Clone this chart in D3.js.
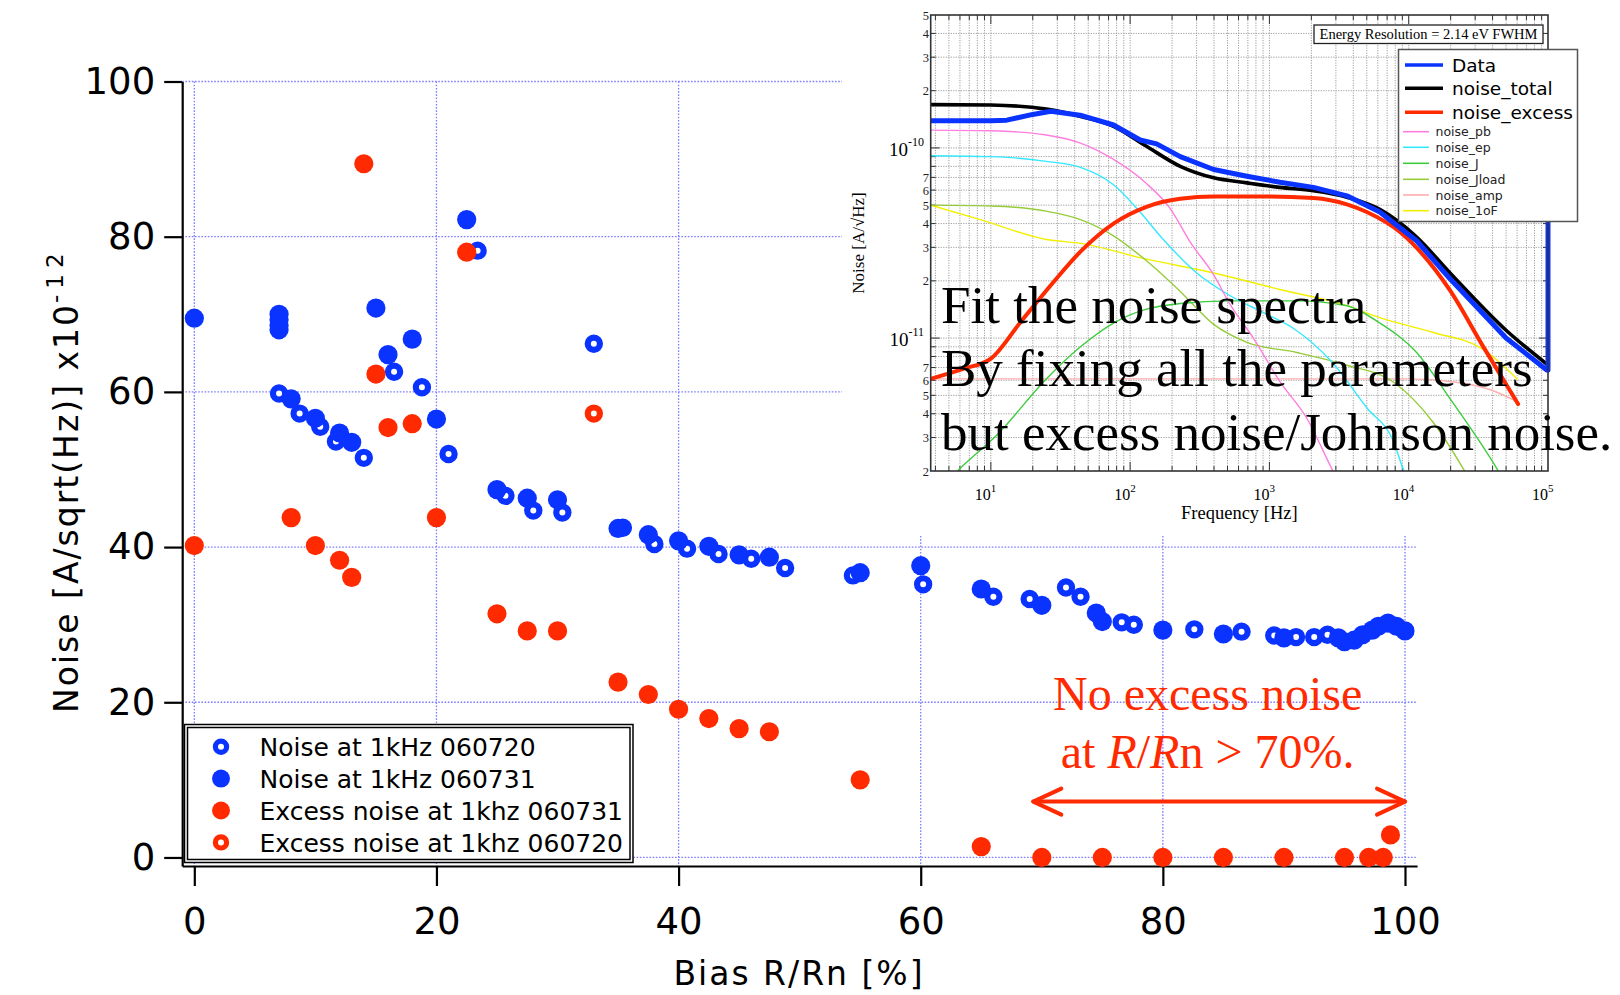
<!DOCTYPE html>
<html>
<head>
<meta charset="utf-8">
<script src="https://cdn.jsdelivr.net/npm/d3@7/dist/d3.min.js"></script>
<style>
html,body{margin:0;padding:0;background:#fff;}
svg{display:block;}
</style>
</head>
<body>
<svg id="chart" width="1620" height="995"></svg>
<script>
// ================= MAIN CHART DATA =================
const xTickValues = [0, 20, 40, 60, 80, 100];
const yTickValues = [0, 20, 40, 60, 80, 100];

// Noise at 1kHz 060720 (open blue)
const noise0720X = [7.0, 8.7, 10.4, 11.7, 14.0, 16.5, 18.8, 21.0, 23.4, 25.7, 28.0, 30.4, 33.0, 35.4, 38.0, 40.7, 43.3, 46.0, 48.8, 54.4, 60.2, 66.0, 69.0, 72.0, 73.2, 76.6, 77.6, 82.6, 86.5, 89.2, 91.0, 92.5, 93.6];
const noise0720Y = [59.8, 57.2, 55.5, 53.6, 51.5, 62.6, 60.6, 52.0, 78.2, 46.6, 44.7, 44.45, 66.2, 42.5, 40.4, 39.8, 39.1, 38.5, 37.3, 36.35, 35.2, 33.6, 33.3, 34.8, 33.6, 30.3, 30.0, 29.4, 29.1, 28.6, 28.4, 28.4, 28.7];

// Noise at 1kHz 060731 (filled blue)
const noise0731X = [0, 7, 7, 7, 7, 8, 10, 12, 13, 15, 16, 18, 20, 22.5, 25, 27.5, 30, 35, 37.5, 40, 42.5, 45, 47.5, 55, 60, 65, 70, 74.5, 75, 80, 85, 90, 94.5, 95, 95.8, 96.5, 97.3, 97.8, 98.6, 99.3, 100];
const noise0731Y = [69.5, 70.0, 69.3, 68.6, 68.0, 59.1, 56.6, 54.7, 53.5, 70.8, 64.8, 66.8, 56.5, 82.2, 47.4, 46.3, 46.1, 42.4, 41.6, 40.8, 40.1, 39.0, 38.7, 36.7, 37.6, 34.6, 32.5, 31.5, 30.4, 29.3, 28.8, 28.3, 28.3, 27.8, 28.0, 28.7, 29.3, 29.8, 30.2, 29.8, 29.2];

// Excess noise at 1khz 060731 (filled red)
const excess0731X = [0, 8, 10, 12, 13, 14, 15, 16, 18, 20, 22.5, 25, 27.5, 30, 35, 37.5, 40, 42.5, 45, 47.5, 55, 65, 70, 75, 80, 85, 90, 95, 97, 98.2, 98.8];
const excess0731Y = [40.2, 43.8, 40.2, 38.3, 36.1, 89.4, 62.3, 55.4, 55.9, 43.8, 78.0, 31.4, 29.2, 29.2, 22.6, 21.0, 19.1, 17.9, 16.6, 16.2, 10.0, 1.4, 0, 0, 0, 0, 0, 0, 0, 0, 2.9];

// Excess noise at 1khz 060720 (open red)
const excess0720X = [33.0];
const excess0720Y = [57.2];

const legendLabels = ["Noise at 1kHz 060720", "Noise at 1kHz 060731", "Excess noise at 1khz 060731", "Excess noise at 1khz 060720"];

// annotation (R/Rn range of arrow, text centre)
const arrowRange = [69.3, 100];
const arrowLevel = 7.2;
const annotationCenter = 83.7;

// ================= INSET DATA (f [Hz], noise [A/sqrt(Hz)]) =================
const specData = [[3.7,1.39e-10],[10,1.39e-10],[13,1.40e-10],[20,1.50e-10],[27,1.56e-10],[45,1.48e-10],[76,1.32e-10],[118,1.10e-10],[155,1.05e-10],[229,9.0e-11],[398,7.7e-11],[689,7.1e-11],[1190,6.6e-11],[2070,6.2e-11],[3600,5.6e-11],[6200,4.6e-11],[11400,3.25e-11],[19800,2.05e-11],[50000,1.0e-11],[98000,6.8e-12],[100000,6.8e-12],[100000,1.2e-10]];
const specTotal = [[3.7,1.69e-10],[10,1.68e-10],[25,1.60e-10],[45,1.46e-10],[76,1.30e-10],[131,1.02e-10],[229,8.0e-11],[398,6.96e-11],[689,6.55e-11],[1190,6.2e-11],[2070,5.95e-11],[3600,5.5e-11],[6200,4.75e-11],[11400,3.4e-11],[19800,2.2e-11],[50000,1.1e-11],[98000,7.3e-12]];
const specExcess = [[3.7,6.1e-12],[6.4,6.9e-12],[10,7.8e-12],[16.3,1.21e-11],[28,1.96e-11],[44,2.85e-11],[76,4.0e-11],[131,4.9e-11],[229,5.4e-11],[400,5.55e-11],[1000,5.55e-11],[2070,5.45e-11],[3600,5.05e-11],[5000,4.6e-11],[8700,3.6e-11],[19800,1.78e-11],[34000,9.1e-12],[61000,4.5e-12]];
const specPb = [[3.7,1.24e-10],[10,1.23e-10],[25,1.17e-10],[44,1.06e-10],[76,8.7e-11],[131,6.5e-11],[194,4.8e-11],[270,3.2e-11],[398,2.15e-11],[523,1.5e-11],[767,1.0e-11],[1190,5.9e-12],[1850,3.8e-12],[2800,2.06e-12],[3500,1.5e-12]];
const specEp = [[3.7,9.1e-11],[10,9.0e-11],[25,8.5e-11],[44,7.9e-11],[76,6.4e-11],[112,4.8e-11],[173,3.3e-11],[301,2.2e-11],[523,1.67e-11],[906,1.36e-11],[1500,1.12e-11],[2800,7.5e-12],[5000,4.3e-12],[7800,2.84e-12],[9100,2.06e-12],[11000,1.5e-12]];
const specJ = [[4,1.5e-12],[6,2.06e-12],[11,3.08e-12],[25,6.1e-12],[44,9.0e-12],[76,1.2e-11],[131,1.42e-11],[229,1.52e-11],[523,1.57e-11],[1570,1.57e-11],[3600,1.48e-11],[6200,1.2e-11],[11400,8.4e-12],[19800,4.8e-12],[42900,2.06e-12],[50000,1.7e-12]];
const specJload = [[3.7,5.0e-11],[10,4.95e-11],[25,4.65e-11],[44,4.2e-11],[76,3.45e-11],[131,2.55e-11],[229,1.76e-11],[398,1.18e-11],[689,9.5e-12],[1570,8.4e-12],[3600,7.2e-12],[7800,5.86e-12],[15000,3.6e-12],[24600,2.06e-12],[30000,1.6e-12]];
const specAmp = [[3.7,6.1e-12],[10000,6.1e-12],[22000,5.86e-12],[40000,5.3e-12],[61000,4.6e-12]];
const spec1oF = [[3.7,5.0e-11],[8.4,4.2e-11],[25,3.3e-11],[44,3.15e-11],[131,2.6e-11],[398,2.2e-11],[1190,1.8e-11],[3600,1.48e-11],[6200,1.28e-11],[15000,1.07e-11],[34000,8.75e-12],[60000,6.1e-12]];

const insetMajorF = [10, 100, 1000, 10000, 100000];
const insetMajorFExp = ["1", "2", "3", "4", "5"];
const insetMajorV = [1e-10, 1e-11];
const insetMajorVExp = ["-10", "-11"];
const insetTextLines = ["Fit the noise spectra", "By fixing all the parameters", "but excess noise/Johnson noise."];

// ================= STYLE =================
const BLUE = "#0a33ff", RED = "#ff2a00";
const C_PB = "#ff7ee0", C_EP = "#35e8ff", C_J = "#3ccc3c", C_JL = "#96cc3a", C_AMP = "#ffaeae", C_1OF = "#f2f000";
const SANS = "'DejaVu Sans', Verdana, sans-serif";
const SERIF = "'Liberation Serif', 'Times New Roman', serif";

const svg = d3.select("#chart");

// ================= MAIN SCALES =================
const x = d3.scaleLinear().domain([-1, 101]).range([182.2, 1417.1]);
const y = d3.scaleLinear().domain([-1.1, 100]).range([866, 81.5]);

// gridlines
const grid = svg.append("g").attr("stroke", "#7f7fff").attr("stroke-width", 1.3).attr("stroke-dasharray", "1.6,1.6");
xTickValues.forEach(t => grid.append("line").attr("x1", x(t)).attr("x2", x(t)).attr("y1", y(100)).attr("y2", y(-1.1)));
yTickValues.forEach(t => grid.append("line").attr("x1", x(-1)).attr("x2", x(101)).attr("y1", y(t)).attr("y2", y(t)));

// axes
const axL = svg.append("g").attr("transform", `translate(${x(-1)},0)`)
  .call(d3.axisLeft(y).tickValues(yTickValues).tickSize(18).tickSizeOuter(0).tickPadding(9).tickFormat(d3.format("d")));
const axB = svg.append("g").attr("transform", `translate(0,${y(-1.1)})`)
  .call(d3.axisBottom(x).tickValues(xTickValues).tickSize(20).tickSizeOuter(0).tickPadding(22).tickFormat(d3.format("d")));
[axL, axB].forEach(a => {
  a.select(".domain").attr("stroke", "#000").attr("stroke-width", 2.2);
  a.selectAll(".tick line").attr("stroke", "#000").attr("stroke-width", 2.2);
  a.selectAll(".tick text").attr("fill", "#000").style("font-family", SANS).style("font-size", "37px");
});

// axis titles
svg.append("text").attr("transform", "translate(78,713) rotate(-90)")
  .style("font-family", SANS).style("font-size", "33px").style("letter-spacing", "2px").attr("fill", "#000")
  .text("Noise [A/sqrt(Hz)] x10")
  .append("tspan").attr("dy", -15).style("font-size", "23px").style("letter-spacing", "6px").text("-12");
svg.append("text").attr("x", 799).attr("y", 985).attr("text-anchor", "middle")
  .style("font-family", SANS).style("font-size", "33px").style("letter-spacing", "2px").attr("fill", "#000")
  .text("Bias R/Rn [%]");

// ================= INSET =================
const ix = d3.scaleLog().domain([3.7, 1e5]).range([930.7, 1548]);
const iy = d3.scaleLog().domain([2e-12, 5e-10]).range([471, 15]);
const inset = svg.append("g");
inset.append("rect").attr("x", 842).attr("y", 0).attr("width", 778).attr("height", 535).attr("fill", "#fff");

const fGrid = [];
for (let e = 0; e <= 5; e++) for (let m = 1; m < 10; m++) { const f = m * Math.pow(10, e); if (f > 3.75 && f < 99999) fGrid.push(f); }
const vGrid = [];
for (let e = -12; e <= -10; e++) for (let m = 1; m < 10; m++) { const v = m * Math.pow(10, e); if (v > 2.01e-12 && v < 4.99e-10) vGrid.push(v); }

const ig = inset.append("g").attr("stroke", "#9e9e9e").attr("stroke-width", 1).attr("stroke-dasharray", "1.2,1.3");
fGrid.forEach(f => ig.append("line").attr("x1", ix(f)).attr("x2", ix(f)).attr("y1", iy.range()[1]).attr("y2", iy.range()[0]));
vGrid.forEach(v => ig.append("line").attr("x1", ix.range()[0]).attr("x2", ix.range()[1]).attr("y1", iy(v)).attr("y2", iy(v)));

// ticks (inward, all four sides)
const isMajor = v => Math.abs(Math.log10(v) - Math.round(Math.log10(v))) < 1e-6;
const itk = inset.append("g").attr("stroke", "#333").attr("stroke-width", 1);
fGrid.forEach(f => {
  const L = isMajor(f) ? 9 : 5;
  itk.append("line").attr("x1", ix(f)).attr("x2", ix(f)).attr("y1", iy.range()[0]).attr("y2", iy.range()[0] - L);
  itk.append("line").attr("x1", ix(f)).attr("x2", ix(f)).attr("y1", iy.range()[1]).attr("y2", iy.range()[1] + L);
});
vGrid.forEach(v => {
  const L = isMajor(v) ? 9 : 5;
  itk.append("line").attr("x1", ix.range()[0]).attr("x2", ix.range()[0] + L).attr("y1", iy(v)).attr("y2", iy(v));
  itk.append("line").attr("x1", ix.range()[1]).attr("x2", ix.range()[1] - L).attr("y1", iy(v)).attr("y2", iy(v));
});

// curves
inset.append("clipPath").attr("id", "iclip").append("rect")
  .attr("x", ix.range()[0]).attr("y", iy.range()[1]).attr("width", ix.range()[1] - ix.range()[0] + 4).attr("height", iy.range()[0] - iy.range()[1]);
const curves = inset.append("g").attr("clip-path", "url(#iclip)").attr("fill", "none").attr("stroke-linejoin", "round").attr("stroke-linecap", "round");
const smooth = d3.line().x(d => ix(d[0])).y(d => iy(d[1])).curve(d3.curveMonotoneX);
const straight = d3.line().x(d => ix(d[0])).y(d => iy(d[1]));
[[specAmp, C_AMP], [spec1oF, C_1OF], [specJload, C_JL], [specJ, C_J], [specEp, C_EP], [specPb, C_PB]].forEach(([s, c]) =>
  curves.append("path").attr("d", smooth(s)).attr("stroke", c).attr("stroke-width", 1.4));
curves.append("path").attr("d", smooth(specExcess)).attr("stroke", RED).attr("stroke-width", 4);
curves.append("path").attr("d", smooth(specTotal)).attr("stroke", "#000").attr("stroke-width", 3.6);
curves.append("path").attr("d", straight(specData)).attr("stroke", BLUE).attr("stroke-width", 5);

// frame
inset.append("rect").attr("x", ix.range()[0]).attr("y", iy.range()[1])
  .attr("width", ix.range()[1] - ix.range()[0]).attr("height", iy.range()[0] - iy.range()[1])
  .attr("fill", "none").attr("stroke", "#333").attr("stroke-width", 1.6);

// inset axis labels
insetMajorF.forEach((f, i) => {
  const t = inset.append("text").attr("x", ix(f) - 16).attr("y", 500).style("font-family", SERIF).style("font-size", "16px").attr("fill", "#000").text("10");
  t.append("tspan").attr("dy", -8).style("font-size", "11px").text(insetMajorFExp[i]);
});
insetMajorV.forEach((v, i) => {
  const t = inset.append("text").attr("x", 924).attr("y", iy(v) + 8).attr("text-anchor", "end").style("font-family", SERIF).style("font-size", "19px").attr("fill", "#000").text("10");
  t.append("tspan").attr("dy", -10).style("font-size", "12px").text(insetMajorVExp[i]);
});
vGrid.concat([2e-12, 5e-10]).forEach(v => {
  const m = Math.round(v / Math.pow(10, Math.floor(Math.log10(v) + 1e-9)));
  if (m < 2 || m > 7) return;
  inset.append("text").attr("x", 929).attr("y", iy(v) + 4.5).attr("text-anchor", "end")
    .style("font-family", SERIF).style("font-size", "12.5px").attr("fill", "#222").text(m);
});
inset.append("text").attr("x", (ix.range()[0] + ix.range()[1]) / 2).attr("y", 519).attr("text-anchor", "middle")
  .style("font-family", SERIF).style("font-size", "18.5px").attr("fill", "#000").text("Frequency [Hz]");
inset.append("text").attr("transform", "translate(864,243) rotate(-90)").attr("text-anchor", "middle")
  .style("font-family", SERIF).style("font-size", "17px").attr("fill", "#000").text("Noise [A/\u221AHz]");

// Energy resolution box
inset.append("rect").attr("x", 1314).attr("y", 25).attr("width", 229).attr("height", 18.5).attr("fill", "#fff").attr("stroke", "#222").attr("stroke-width", 1.3);
inset.append("text").attr("x", 1428.5).attr("y", 39.3).attr("text-anchor", "middle")
  .style("font-family", SERIF).style("font-size", "14.5px").attr("fill", "#000").text("Energy Resolution = 2.14 eV FWHM");

// inset legend
inset.append("rect").attr("x", 1398.5).attr("y", 49.5).attr("width", 179).attr("height", 172).attr("fill", "#fff").attr("stroke", "#555").attr("stroke-width", 1.5);
const bigLeg = [["Data", BLUE, 65], ["noise_total", "#000", 88.3], ["noise_excess", RED, 112.3]];
const smallLeg = [["noise_pb", C_PB, 131.7], ["noise_ep", C_EP, 147.3], ["noise_J", C_J, 163.3], ["noise_Jload", C_JL, 179.3], ["noise_amp", C_AMP, 195], ["noise_1oF", C_1OF, 210.7]];
bigLeg.forEach(([lab, c, yy]) => {
  inset.append("line").attr("x1", 1405).attr("x2", 1443).attr("y1", yy).attr("y2", yy).attr("stroke", c).attr("stroke-width", 3.5);
  inset.append("text").attr("x", 1452).attr("y", yy + 6.5).style("font-family", SANS).style("font-size", "18.5px").attr("fill", "#000").text(lab);
});
smallLeg.forEach(([lab, c, yy]) => {
  inset.append("line").attr("x1", 1403).attr("x2", 1429).attr("y1", yy).attr("y2", yy).attr("stroke", c).attr("stroke-width", 1.6);
  inset.append("text").attr("x", 1435.5).attr("y", yy + 4.5).style("font-family", SANS).style("font-size", "12.5px").attr("fill", "#222").text(lab);
});

// big overlay text
insetTextLines.forEach((t, i) => {
  inset.append("text").attr("x", 941).attr("y", 322.7 + i * 63.7)
    .style("font-family", SERIF).style("font-size", "53px").attr("fill", "#000").text(t);
});

// ================= MAIN MARKERS =================
function drawSeries(xs, ys, color, open) {
  const g = svg.append("g");
  xs.forEach((xv, i) => {
    const c = g.append("circle").attr("cx", x(xv)).attr("cy", y(ys[i]));
    if (open) c.attr("r", 6.1).attr("fill", "#fff").attr("stroke", color).attr("stroke-width", 6.2);
    else c.attr("r", 9.6).attr("fill", color);
  });
}
drawSeries(noise0720X, noise0720Y, BLUE, true);
drawSeries(noise0731X, noise0731Y, BLUE, false);
drawSeries(excess0731X, excess0731Y, RED, false);
drawSeries(excess0720X, excess0720Y, RED, true);

// ================= MAIN LEGEND =================
const lg = svg.append("g");
lg.append("rect").attr("x", 184.5).attr("y", 724.5).attr("width", 448.5).attr("height", 138).attr("fill", "#fff").attr("stroke", "#000").attr("stroke-width", 1.5);
lg.append("rect").attr("x", 187.5).attr("y", 727.5).attr("width", 442.5).attr("height", 132).attr("fill", "none").attr("stroke", "#000").attr("stroke-width", 1.5);
const legStyle = [[BLUE, true], [BLUE, false], [RED, false], [RED, true]];
legendLabels.forEach((lab, i) => {
  const yy = 746.7 + i * 31.9;
  const [c, open] = legStyle[i];
  const m = lg.append("circle").attr("cx", 221).attr("cy", yy);
  if (open) m.attr("r", 5.6).attr("fill", "#fff").attr("stroke", c).attr("stroke-width", 5.2);
  else m.attr("r", 9).attr("fill", c);
  lg.append("text").attr("x", 259.5).attr("y", yy + 9.3).style("font-family", SANS).style("font-size", "25px").attr("fill", "#000").text(lab);
});

// ================= ANNOTATION =================
const ann = svg.append("g").attr("fill", RED).style("font-family", SERIF).style("font-size", "48px");
const cx = x(annotationCenter);
ann.append("text").attr("x", cx).attr("y", 710).attr("text-anchor", "middle").text("No excess noise");
const t2 = ann.append("text").attr("x", cx).attr("y", 768).attr("text-anchor", "middle");
t2.append("tspan").text("at ");
t2.append("tspan").style("font-style", "italic").text("R");
t2.append("tspan").text("/");
t2.append("tspan").style("font-style", "italic").text("R");
t2.append("tspan").text("n > 70%.");
const ax0 = x(arrowRange[0]), ax1 = x(arrowRange[1]), ay = y(arrowLevel);
const ar = svg.append("g").attr("stroke", RED).attr("stroke-width", 4).attr("fill", "none").attr("stroke-linecap", "round").attr("stroke-linejoin", "round");
ar.append("line").attr("x1", ax0).attr("x2", ax1).attr("y1", ay).attr("y2", ay);
ar.append("polyline").attr("points", `${ax0 + 28},${ay - 13} ${ax0},${ay} ${ax0 + 28},${ay + 13}`);
ar.append("polyline").attr("points", `${ax1 - 28},${ay - 13} ${ax1},${ay} ${ax1 - 28},${ay + 13}`);
</script>
</body>
</html>
